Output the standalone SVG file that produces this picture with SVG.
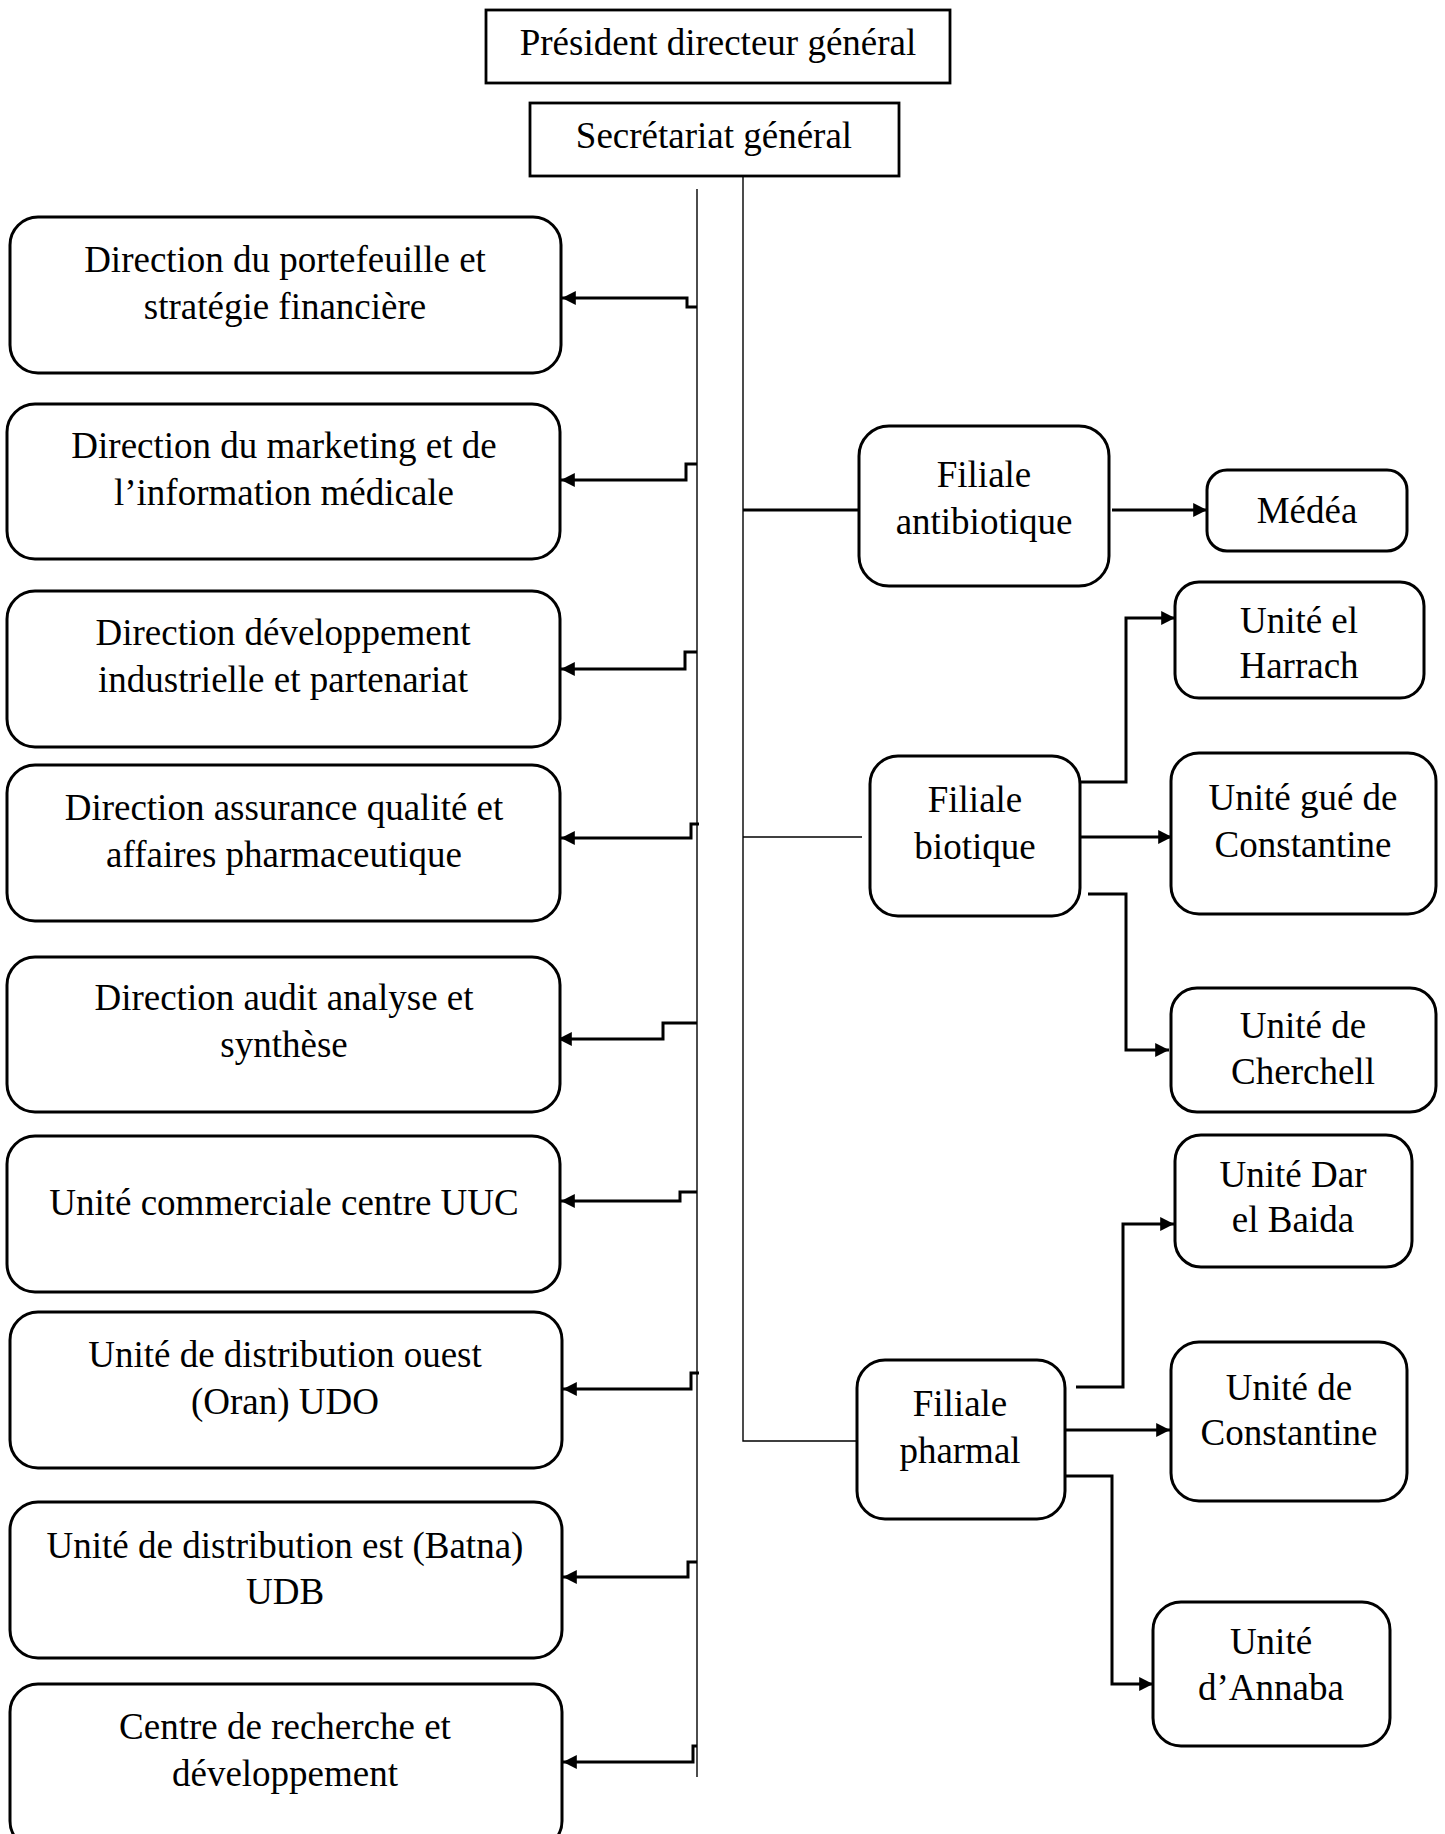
<svg xmlns="http://www.w3.org/2000/svg" width="1445" height="1834" viewBox="0 0 1445 1834">
<defs>
<style>
.t{font-family:"Liberation Serif","Times New Roman",serif;font-size:37px;fill:#000;text-anchor:middle}
.sq{fill:#fff;stroke:#000;stroke-width:2.8}
.rb{fill:#fff;stroke:#000;stroke-width:3}
.bus{fill:none;stroke:#000;stroke-width:1.4}
.c{fill:none;stroke:#000;stroke-width:3}
.a{fill:none;stroke:#000;stroke-width:3;marker-end:url(#ah)}
</style>
<marker id="ah" viewBox="0 0 10 10" refX="10" refY="5" markerWidth="4.6" markerHeight="5" orient="auto" markerUnits="strokeWidth">
<path d="M0,0 L10,5 L0,10 z" fill="#000"/>
</marker>
</defs>
<rect width="1445" height="1834" fill="#fff"/>

<g id="connectors">
<path class="bus" d="M697,189 V1777"/>
<path class="bus" d="M743,176 V1441 H859"/>
<path class="a" d="M697,307 H687 V298 H562"/>
<path class="a" d="M697,464 H686 V480 H561"/>
<path class="a" d="M697,652 H685 V669 H561"/>
<path class="a" d="M699,824 H691 V838 H561"/>
<path class="a" d="M697,1023 H663 V1039 H558"/>
<path class="a" d="M697,1192 H680 V1201 H561"/>
<path class="a" d="M699,1373 H691 V1389 H563"/>
<path class="a" d="M697,1562 H688 V1577 H563"/>
<path class="a" d="M697,1746 H693 V1762 H563"/>
<path class="c" d="M743,510 H872"/>
<path class="bus" d="M743,837 H862"/>
<path class="a" d="M1112,510 H1207"/>
<path class="a" d="M1080,782 H1126 V618 H1175"/>
<path class="a" d="M1080,837 H1172"/>
<path class="a" d="M1088,894 H1126 V1050 H1169"/>
<path class="a" d="M1076,1387 H1123 V1224 H1174"/>
<path class="a" d="M1066,1430 H1170"/>
<path class="a" d="M1066,1476 H1112 V1684 H1153"/>
</g>

<g id="pdg"><rect class="sq" x="486" y="10" width="464" height="73"/><text class="t" x="718" y="55">Président directeur général</text></g>
<g id="secretariat"><rect class="sq" x="530" y="103" width="369" height="73"/><text class="t" x="714" y="148">Secrétariat général</text></g>

<g id="dir-portefeuille"><rect class="rb" x="10" y="217" width="551" height="156" rx="28"/><text class="t" x="285" y="272">Direction du portefeuille et</text><text class="t" x="285" y="319">stratégie financière</text></g>
<g id="dir-marketing"><rect class="rb" x="7" y="404" width="553" height="155" rx="28"/><text class="t" x="284" y="458">Direction du marketing et de</text><text class="t" x="284" y="505">l’information médicale</text></g>
<g id="dir-developpement"><rect class="rb" x="7" y="591" width="553" height="156" rx="28"/><text class="t" x="283" y="645">Direction développement</text><text class="t" x="283" y="692">industrielle et partenariat</text></g>
<g id="dir-assurance"><rect class="rb" x="7" y="765" width="553" height="156" rx="28"/><text class="t" x="284" y="820">Direction assurance qualité et</text><text class="t" x="284" y="867">affaires pharmaceutique</text></g>
<g id="dir-audit"><rect class="rb" x="7" y="957" width="553" height="155" rx="28"/><text class="t" x="284" y="1010">Direction audit analyse et</text><text class="t" x="284" y="1057">synthèse</text></g>
<g id="uuc"><rect class="rb" x="7" y="1136" width="553" height="156" rx="28"/><text class="t" x="284" y="1215">Unité commerciale centre UUC</text></g>
<g id="udo"><rect class="rb" x="10" y="1312" width="552" height="156" rx="28"/><text class="t" x="285" y="1367">Unité de distribution ouest</text><text class="t" x="285" y="1414">(Oran) UDO</text></g>
<g id="udb"><rect class="rb" x="10" y="1502" width="552" height="156" rx="28"/><text class="t" x="285" y="1558">Unité de distribution est (Batna)</text><text class="t" x="285" y="1604">UDB</text></g>
<g id="crd"><rect class="rb" x="10" y="1684" width="552" height="165" rx="28"/><text class="t" x="285" y="1739">Centre de recherche et</text><text class="t" x="285" y="1786">développement</text></g>

<g id="filiale-antibiotique"><rect class="rb" x="859" y="426" width="250" height="160" rx="30"/><text class="t" x="984" y="487">Filiale</text><text class="t" x="984" y="534">antibiotique</text></g>
<g id="medea"><rect class="rb" x="1207" y="470" width="200" height="81" rx="20"/><text class="t" x="1307" y="523">Médéa</text></g>
<g id="el-harrach"><rect class="rb" x="1175" y="582" width="249" height="116" rx="24"/><text class="t" x="1299" y="633">Unité el</text><text class="t" x="1299" y="678">Harrach</text></g>
<g id="filiale-biotique"><rect class="rb" x="870" y="756" width="210" height="160" rx="28"/><text class="t" x="975" y="812">Filiale</text><text class="t" x="975" y="859">biotique</text></g>
<g id="gue-constantine"><rect class="rb" x="1171" y="753" width="265" height="161" rx="28"/><text class="t" x="1303" y="810">Unité gué de</text><text class="t" x="1303" y="857">Constantine</text></g>
<g id="cherchell"><rect class="rb" x="1171" y="988" width="265" height="124" rx="26"/><text class="t" x="1303" y="1038">Unité de</text><text class="t" x="1303" y="1084">Cherchell</text></g>
<g id="dar-el-baida"><rect class="rb" x="1175" y="1135" width="237" height="132" rx="26"/><text class="t" x="1293" y="1187">Unité Dar</text><text class="t" x="1293" y="1232">el Baida</text></g>
<g id="filiale-pharmal"><rect class="rb" x="857" y="1360" width="208" height="159" rx="28"/><text class="t" x="960" y="1416">Filiale</text><text class="t" x="960" y="1463">pharmal</text></g>
<g id="constantine"><rect class="rb" x="1171" y="1342" width="236" height="159" rx="28"/><text class="t" x="1289" y="1400">Unité de</text><text class="t" x="1289" y="1445">Constantine</text></g>
<g id="annaba"><rect class="rb" x="1153" y="1602" width="237" height="144" rx="28"/><text class="t" x="1271" y="1654">Unité</text><text class="t" x="1271" y="1700">d’Annaba</text></g>
</svg>
